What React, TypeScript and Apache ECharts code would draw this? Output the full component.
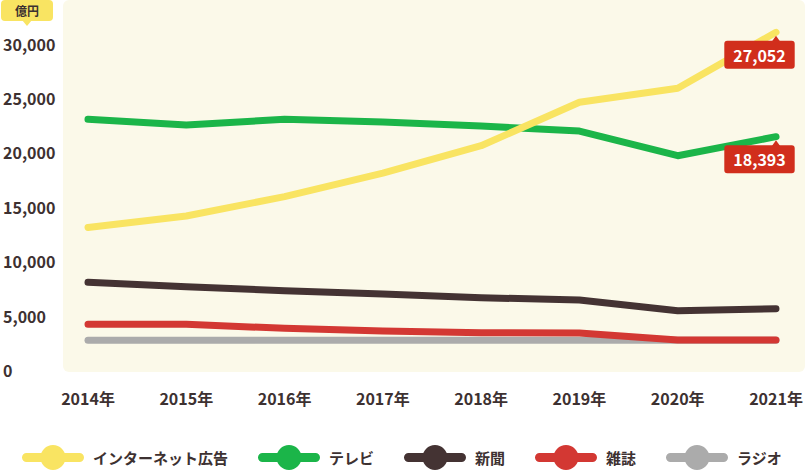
import React, { useEffect, useRef } from "react";
import * as echarts from "echarts";

const years = ["2014年", "2015年", "2016年", "2017年", "2018年", "2019年", "2020年", "2021年"];
const internet = [13100, 14150, 15930, 18100, 20610, 24600, 25890, 31030];
const tv = [23040, 22520, 23040, 22790, 22420, 21960, 19690, 21440];
const newspaper = [8060, 7660, 7290, 6980, 6640, 6430, 5450, 5630];
const magazine = [4200, 4200, 3830, 3580, 3430, 3400, 2760, 2760];
const radio = [2730, 2730, 2730, 2730, 2730, 2730, 2730, 2730];
const seriesNames = ["インターネット広告", "テレビ", "新聞", "雑誌", "ラジオ"];
const calloutValues = [27052, 18393];
const unitLabel = "億円";

const FONT = "'Noto Sans CJK JP', 'Noto Sans', sans-serif";
const TEXT = "#3d3131";
const RED = "#d12e1c";
const COLORS = {
  internet: "#f9e462",
  tv: "#1bb549",
  newspaper: "#443333",
  magazine: "#d33833",
  radio: "#ababab",
};

const legendIcon =
  "path://M4.5 8 L57.5 8 A4.5 4.5 0 0 1 57.5 17 L4.5 17 A4.5 4.5 0 0 1 4.5 8 Z M18.5 12.5 A12.5 12.5 0 1 1 43.5 12.5 A12.5 12.5 0 1 1 18.5 12.5 Z";

function callout(value: number, y: number) {
  return {
    symbol: "triangle",
    symbolSize: [10, 7],
    symbolOffset: [0, 7],
    itemStyle: { color: RED },
    label: {
      show: true,
      position: "bottom",
      distance: 0,
      offset: [-16.5, -2],
      formatter: () => value.toLocaleString("en-US"),
      backgroundColor: RED,
      color: "#ffffff",
      fontFamily: FONT,
      fontSize: 16,
      fontWeight: "bold",
      lineHeight: 20,
      padding: [4, 9],
      borderRadius: 3,
    },
    data: [{ coord: [years[years.length - 1], y], value }],
  };
}

function lineSeries(name: string, data: number[], color: string, extra: any = {}) {
  return {
    name,
    type: "line",
    data,
    color,
    showSymbol: false,
    symbol: "none",
    smooth: false,
    lineStyle: { color, width: 7, cap: "round", join: "round" },
    itemStyle: { color },
    emphasis: { disabled: true },
    ...extra,
  };
}

export default function App() {
  const ref = useRef<HTMLDivElement>(null);
  useEffect(() => {
    if (!ref.current) return;
    const chart = echarts.init(ref.current, undefined, { renderer: "svg" });
    chart.setOption({
      animation: false,
      textStyle: { fontFamily: FONT },
      grid: { left: 86, right: 31, top: 0, bottom: 102, containLabel: false },
      graphic: [
        {
          type: "rect",
          z: -1,
          silent: true,
          shape: { x: 63, y: 0, width: 742, height: 372, r: 6 },
          style: { fill: "#fbf9e9" },
        },
        {
          type: "group",
          z: 10,
          silent: true,
          children: [
            { type: "rect", shape: { x: 1, y: 0, width: 52, height: 21, r: 4 }, style: { fill: COLORS.internet } },
            { type: "polygon", shape: { points: [[22, 20], [32, 20], [27, 26]] }, style: { fill: COLORS.internet } },
            {
              type: "text",
              x: 27,
              y: 10.5,
              style: {
                text: unitLabel,
                fill: TEXT,
                font: `bold 12px ${FONT}`,
                textAlign: "center",
                textVerticalAlign: "middle",
              },
            },
          ],
        },
      ],
      legend: {
        data: seriesNames,
        left: 17,
        top: 440,
        width: 790,
        icon: legendIcon,
        itemWidth: 62,
        itemHeight: 25,
        itemGap: 30,
        selectedMode: false,
        formatter: (name: string) => "{s|}" + name,
        textStyle: {
          color: TEXT,
          fontSize: 15,
          fontWeight: "bold",
          fontFamily: FONT,
          rich: { s: { width: 4 } },
        },
      },
      xAxis: {
        type: "category",
        data: years,
        boundaryGap: false,
        axisLine: { show: false },
        axisTick: { show: false },
        splitLine: { show: false },
        axisLabel: { color: TEXT, fontSize: 16, fontWeight: "bold", margin: 20, fontFamily: FONT },
      },
      yAxis: {
        type: "value",
        min: 0,
        max: 34000,
        interval: 5000,
        axisLine: { show: false },
        axisTick: { show: false },
        splitLine: { show: false },
        axisLabel: {
          color: TEXT,
          fontSize: 16,
          fontWeight: "bold",
          fontFamily: FONT,
          align: "left",
          margin: 85,
          formatter: (v: number) => (v % 5000 === 0 ? v.toLocaleString("en-US") : ""),
        },
      },
      series: [
        lineSeries(seriesNames[4], radio, COLORS.radio),
        lineSeries(seriesNames[3], magazine, COLORS.magazine),
        lineSeries(seriesNames[2], newspaper, COLORS.newspaper),
        lineSeries(seriesNames[1], tv, COLORS.tv, { markPoint: callout(calloutValues[1], tv[tv.length - 1]) }),
        lineSeries(seriesNames[0], internet, COLORS.internet, {
          markPoint: callout(calloutValues[0], internet[internet.length - 1]),
        }),
      ],
    });
    return () => chart.dispose();
  }, []);
  return <div ref={ref} style={{ position: "absolute", left: 0, top: 0, width: 807, height: 472 }} />;
}
